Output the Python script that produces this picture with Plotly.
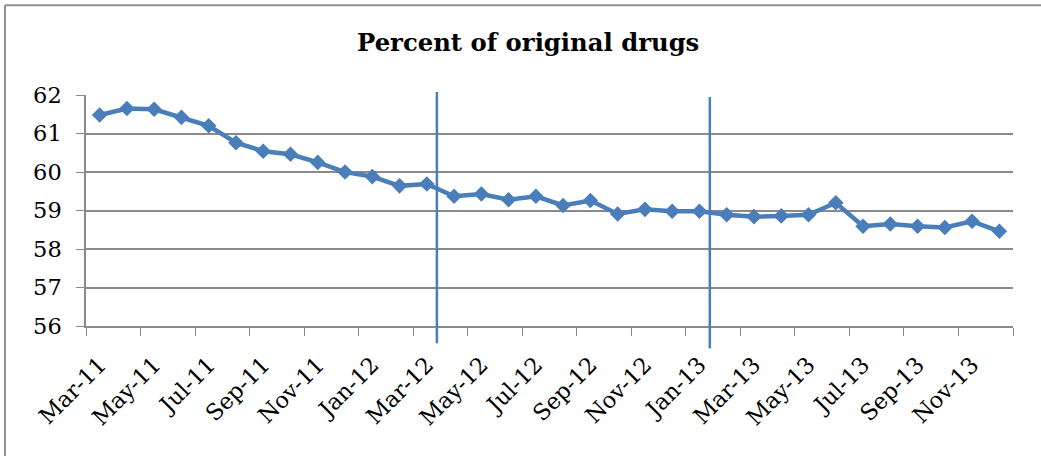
import plotly.graph_objects as go

# Monthly share of original drugs, Mar-2011 .. Dec-2013
months = [
    "Mar-11", "Apr-11", "May-11", "Jun-11", "Jul-11", "Aug-11", "Sep-11", "Oct-11",
    "Nov-11", "Dec-11", "Jan-12", "Feb-12", "Mar-12", "Apr-12", "May-12", "Jun-12",
    "Jul-12", "Aug-12", "Sep-12", "Oct-12", "Nov-12", "Dec-12", "Jan-13", "Feb-13",
    "Mar-13", "Apr-13", "May-13", "Jun-13", "Jul-13", "Aug-13", "Sep-13", "Oct-13",
    "Nov-13", "Dec-13",
]
percent_original = [
    61.48, 61.65, 61.63, 61.42, 61.20, 60.76, 60.54, 60.46,
    60.25, 60.00, 59.88, 59.64, 59.69, 59.37, 59.43, 59.28,
    59.37, 59.13, 59.26, 58.91, 59.03, 58.98, 58.98, 58.89,
    58.84, 58.86, 58.89, 59.20, 58.59, 58.65, 58.59, 58.56,
    58.72, 58.46,
]
# Policy-change markers, as positions on the category axis (index units)
event_positions = [12.37, 22.38]
event_spans = [(-0.075, 1.013), (-0.097, 0.991)]  # vertical extent, paper units

y_ticks = [56, 57, 58, 59, 60, 61, 62]

BLUE = "#4A7EBB"
GRID = "#8A8A8A"
FONT = "DejaVu Serif, serif"
TICK_SIZE = 22.5

fig = go.Figure()
fig.add_trace(go.Scatter(
    x=months,
    y=percent_original,
    mode="lines+markers",
    line=dict(color=BLUE, width=4.5),
    marker=dict(symbol="diamond", size=12, color=BLUE),
    showlegend=False,
))

shapes = []
for pos, (y0, y1) in zip(event_positions, event_spans):
    shapes.append(dict(
        type="line", xref="x", yref="paper",
        x0=pos, x1=pos, y0=y0, y1=y1,
        line=dict(color=BLUE, width=2.5),
    ))

# chart frame (top and left edges)
shapes.append(dict(type="line", xref="paper", yref="paper",
                   x0=-0.0874, x1=1.05, y0=1.388, y1=1.388,
                   line=dict(color="#8F8F8F", width=2)))
shapes.append(dict(type="line", xref="paper", yref="paper",
                   x0=-0.0874, x1=-0.0874, y0=1.388, y1=-0.6,
                   line=dict(color="#8F8F8F", width=2)))

fig.update_layout(
    width=1041,
    height=456,
    margin=dict(l=86, r=28, t=95, b=130),
    paper_bgcolor="white",
    plot_bgcolor="white",
    font=dict(family=FONT, size=TICK_SIZE, color="black"),
    title=dict(
        text="<b>Percent of original drugs</b>",
        font=dict(family=FONT, size=24.3, color="black"),
        x=0.477, xref="paper", xanchor="center",
        y=0.906, yref="container", yanchor="middle",
    ),
    shapes=shapes,
)

fig.update_xaxes(
    type="category",
    range=[-0.5, len(months) - 0.5],
    dtick=2,
    tickangle=-45,
    tickson="boundaries",
    ticks="outside",
    ticklen=8,
    tickcolor=GRID,
    ticklabelstandoff=15,
    showline=True,
    linecolor=GRID,
    linewidth=1.5,
    showgrid=False,
    zeroline=False,
    tickfont=dict(family=FONT, size=TICK_SIZE, color="black"),
)

fig.update_yaxes(
    range=[56, 62],
    tickvals=y_ticks,
    ticks="outside",
    ticklen=8,
    tickcolor=GRID,
    ticklabelstandoff=10,
    showline=True,
    linecolor=GRID,
    linewidth=1.5,
    showgrid=True,
    gridcolor=GRID,
    gridwidth=1.5,
    zeroline=False,
    tickfont=dict(family=FONT, size=TICK_SIZE, color="black"),
)

fig.write_html("out.html")
